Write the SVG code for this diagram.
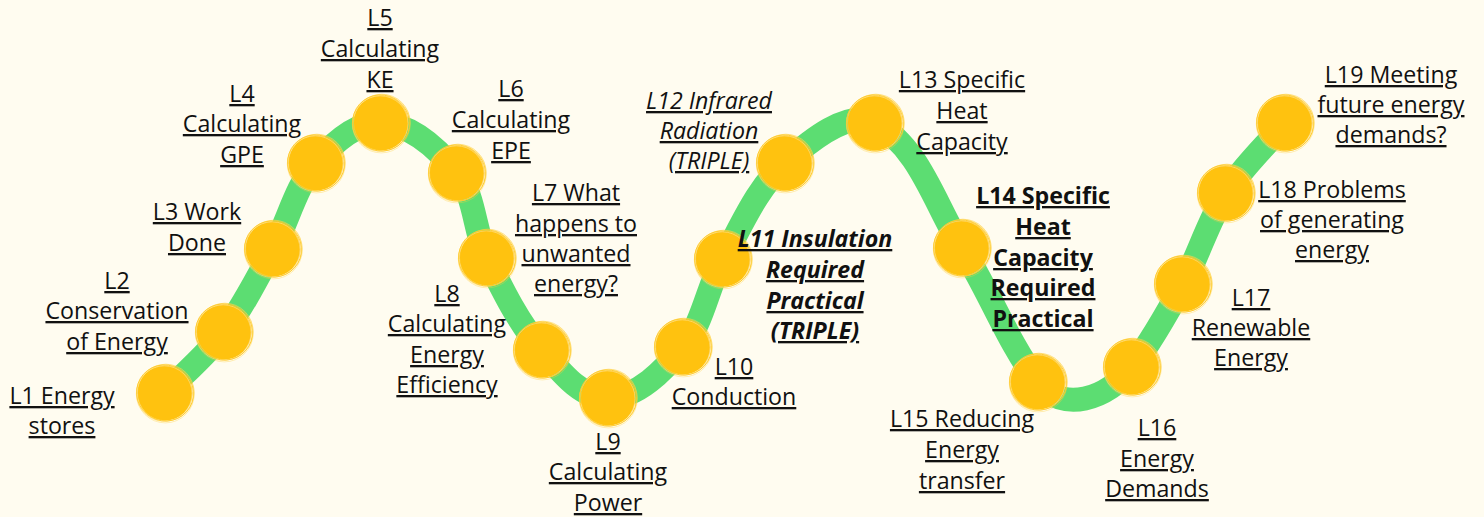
<svg xmlns="http://www.w3.org/2000/svg" xmlns:xlink="http://www.w3.org/1999/xlink" width="1484" height="517" viewBox="0 0 1484 517">
<style>
.t{font-family:"Open Sans","Noto Sans","Liberation Sans",sans-serif;font-size:23.2px;fill:#111;text-anchor:middle;text-decoration:underline;text-decoration-thickness:2px;}
.b{font-weight:700;}
.i{font-style:italic;}
.wave{fill:none;stroke:#5CDD72;stroke-width:24;stroke-linecap:round;}
</style>
<defs>
<g id="dot">
<circle r="27.5" fill="#FFC20F"/>
<circle cx="0.8" cy="-0.5" r="28.3" fill="none" stroke="#FFD34D" stroke-width="0.8" opacity="0.8"/>
<circle cx="-0.7" cy="0.6" r="27.8" fill="none" stroke="#FFE08A" stroke-width="0.7"/>
<circle cx="0.3" cy="0.9" r="29" fill="none" stroke="#FFCF3A" stroke-width="0.6" opacity="0.6"/>
<ellipse rx="28.6" ry="27.9" fill="none" stroke="#FFC926" stroke-width="0.8" transform="rotate(30)"/>
</g>
</defs>
<rect width="1484" height="517" fill="#FFFCF0"/>
<g id="connectors">
<path class="wave" d="M165,393 C184.8,372.9 207,354.6 224,332 C243.3,306.3 257.7,277.2 273,249 C288.3,220.8 295.1,187.4 316,163 C332.5,143.7 355.6,121.7 381,123 C411.3,124.5 438.3,149.2 457,173 C475.5,196.6 474,231 487,258 C502.5,290.2 518.7,323 542,350 C559.8,370.6 580.8,398.5 608,398 C638.2,397.4 663.8,370.3 683,347 C703.5,322.2 707.4,287.2 723,259 C741.5,225.7 756.6,188.4 785,163 C809.4,141.1 848.6,108.9 875,123 C919.7,146.9 934.9,205 962,248 C989.3,291.4 1007.2,341 1038,382 C1062,414 1108,399 1132,367 C1151.5,341 1167.6,312.6 1183,284 C1198.9,254.5 1208.1,221.3 1226,193 C1242.3,167.2 1265.3,146.3 1285,123"/>
</g>
<g id="L1"><use xlink:href="#dot" x="165" y="393"/><text class="t"><tspan x="62" y="404">L1 Energy</tspan><tspan x="62" y="434">stores</tspan></text></g>
<g id="L2"><use xlink:href="#dot" x="224" y="332"/><text class="t"><tspan x="117" y="289">L2</tspan><tspan x="117" y="319">Conservation</tspan><tspan x="117" y="350">of Energy</tspan></text></g>
<g id="L3"><use xlink:href="#dot" x="273" y="249"/><text class="t"><tspan x="197" y="220">L3 Work</tspan><tspan x="197" y="251">Done</tspan></text></g>
<g id="L4"><use xlink:href="#dot" x="316" y="163"/><text class="t"><tspan x="242" y="102">L4</tspan><tspan x="242" y="132">Calculating</tspan><tspan x="242" y="163">GPE</tspan></text></g>
<g id="L5"><use xlink:href="#dot" x="381" y="123"/><text class="t"><tspan x="380" y="26">L5</tspan><tspan x="380" y="57">Calculating</tspan><tspan x="380" y="88">KE</tspan></text></g>
<g id="L6"><use xlink:href="#dot" x="457" y="173"/><text class="t"><tspan x="511" y="97">L6</tspan><tspan x="511" y="128">Calculating</tspan><tspan x="511" y="159">EPE</tspan></text></g>
<g id="L7"><use xlink:href="#dot" x="487" y="258"/><text class="t"><tspan x="576" y="201">L7 What</tspan><tspan x="576" y="232">happens to</tspan><tspan x="576" y="262">unwanted</tspan><tspan x="576" y="292">energy?</tspan></text></g>
<g id="L8"><use xlink:href="#dot" x="542" y="350"/><text class="t"><tspan x="447" y="302">L8</tspan><tspan x="447" y="332">Calculating</tspan><tspan x="447" y="363">Energy</tspan><tspan x="447" y="393">Efficiency</tspan></text></g>
<g id="L9"><use xlink:href="#dot" x="608" y="398"/><text class="t"><tspan x="608" y="450">L9</tspan><tspan x="608" y="480">Calculating</tspan><tspan x="608" y="511">Power</tspan></text></g>
<g id="L10"><use xlink:href="#dot" x="683" y="347"/><text class="t"><tspan x="734" y="375">L10</tspan><tspan x="734" y="405">Conduction</tspan></text></g>
<g id="L11"><use xlink:href="#dot" x="723" y="259"/><text class="t b i"><tspan x="815" y="247">L11 Insulation</tspan><tspan x="815" y="278">Required</tspan><tspan x="815" y="309">Practical</tspan><tspan x="815" y="339">(TRIPLE)</tspan></text></g>
<g id="L12"><use xlink:href="#dot" x="785" y="163"/><text class="t i"><tspan x="709" y="109">L12 Infrared</tspan><tspan x="709" y="139">Radiation</tspan><tspan x="709" y="169">(TRIPLE)</tspan></text></g>
<g id="L13"><use xlink:href="#dot" x="875" y="123"/><text class="t"><tspan x="962" y="88">L13 Specific</tspan><tspan x="962" y="119">Heat</tspan><tspan x="962" y="150">Capacity</tspan></text></g>
<g id="L14"><use xlink:href="#dot" x="962" y="248"/><text class="t b"><tspan x="1043" y="204">L14 Specific</tspan><tspan x="1043" y="235">Heat</tspan><tspan x="1043" y="266">Capacity</tspan><tspan x="1043" y="296">Required</tspan><tspan x="1043" y="327">Practical</tspan></text></g>
<g id="L15"><use xlink:href="#dot" x="1038" y="382"/><text class="t"><tspan x="962" y="427">L15 Reducing</tspan><tspan x="962" y="458">Energy</tspan><tspan x="962" y="489">transfer</tspan></text></g>
<g id="L16"><use xlink:href="#dot" x="1132" y="367"/><text class="t"><tspan x="1157" y="436">L16</tspan><tspan x="1157" y="467">Energy</tspan><tspan x="1157" y="497">Demands</tspan></text></g>
<g id="L17"><use xlink:href="#dot" x="1183" y="284"/><text class="t"><tspan x="1251" y="306">L17</tspan><tspan x="1251" y="336">Renewable</tspan><tspan x="1251" y="366">Energy</tspan></text></g>
<g id="L18"><use xlink:href="#dot" x="1226" y="193"/><text class="t"><tspan x="1332" y="198">L18 Problems</tspan><tspan x="1332" y="228">of generating</tspan><tspan x="1332" y="258">energy</tspan></text></g>
<g id="L19"><use xlink:href="#dot" x="1285" y="123"/><text class="t"><tspan x="1391" y="83">L19 Meeting</tspan><tspan x="1391" y="113">future energy</tspan><tspan x="1391" y="143">demands?</tspan></text></g>
</svg>
